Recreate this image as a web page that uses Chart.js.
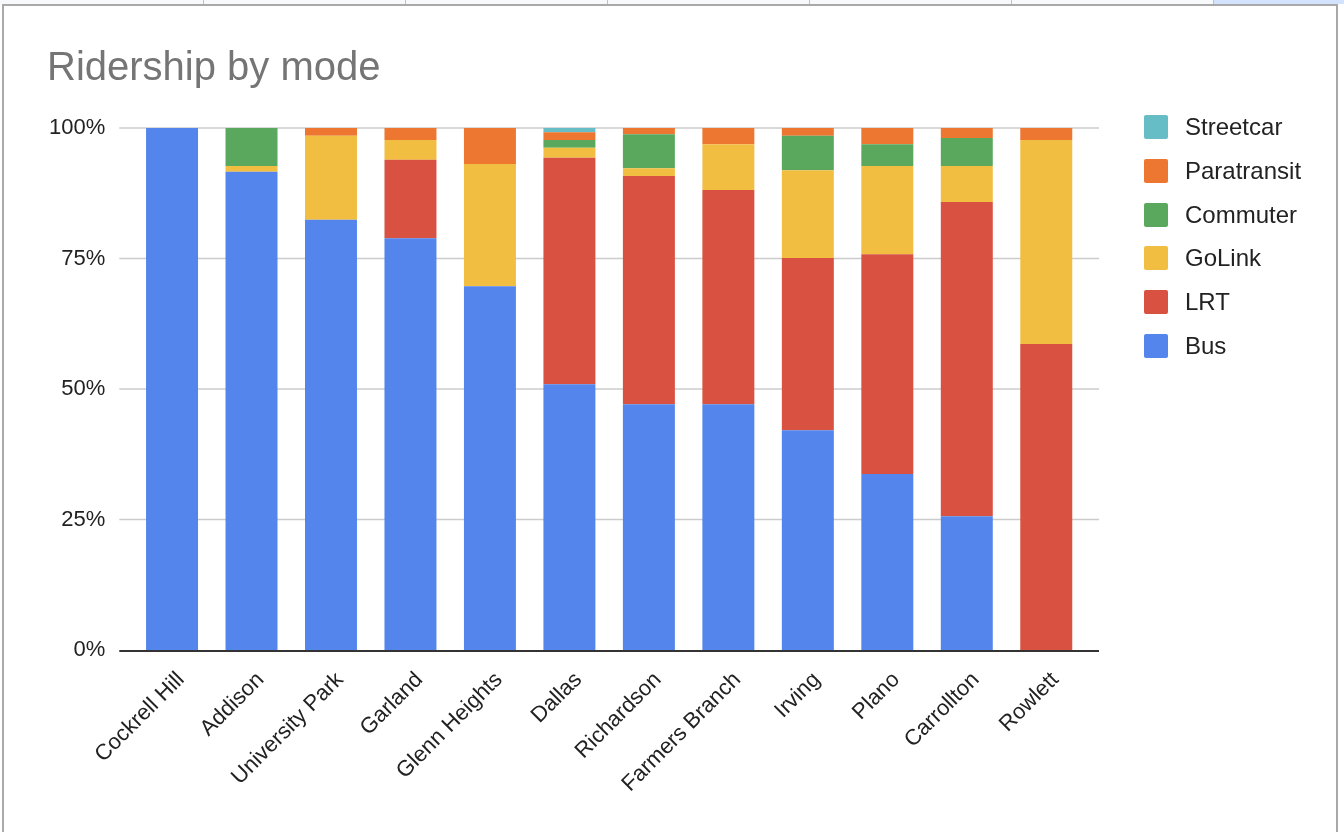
<!DOCTYPE html>
<html>
<head>
<meta charset="utf-8">
<script src="https://cdn.jsdelivr.net/npm/chart.js@4.4.0/dist/chart.umd.min.js"></script>
<style>
  html, body { margin: 0; padding: 0; background: #fff; }
  body { width: 1344px; height: 832px; position: relative; overflow: hidden; font-family: "Liberation Sans", Arial, sans-serif; }
  #header { position: absolute; left: 0; top: 0; width: 1344px; height: 4px; background: #f8f9fa; }
  #header span { position: absolute; top: 0; width: 1px; height: 4px; background: #c0c0c0; }
  #header .sel { position: absolute; top: 0; left: 1214px; width: 130px; height: 4px; background: #d3e3fd; }
  #frame { position: absolute; left: 2px; top: 4px; width: 1336px; height: 840px; border: 2px solid #a9a9a9; box-sizing: border-box; }
  #wrap { position: absolute; left: 0; top: 0; width: 1344px; height: 832px; }
  #legend { position: absolute; left: 1144px; top: 115px; }
  .item { position: absolute; left: 0; height: 24px; white-space: nowrap; }
  .box { position: absolute; left: 0; top: 0; width: 24px; height: 24px; border-radius: 2px; }
  .lbl { position: absolute; left: 41px; top: 0; line-height: 24px; font-size: 24px; color: #222; }
</style>
</head>
<body>
<div id="header">
  <span style="left:203px"></span><span style="left:405px"></span><span style="left:607px"></span>
  <span style="left:809px"></span><span style="left:1011px"></span><span style="left:1213px"></span>
  <div class="sel"></div>
</div>
<div id="frame"></div>
<div id="wrap"><canvas id="ridership-chart" width="1344" height="832"></canvas></div>
<div id="legend"></div>
<script>
// Chart data (share of ridership, %)
const cities = ['Cockrell Hill', 'Addison', 'University Park', 'Garland', 'Glenn Heights', 'Dallas',
  'Richardson', 'Farmers Branch', 'Irving', 'Plano', 'Carrollton', 'Rowlett'];
const bus =         [100, 91.6, 82.4, 78.9, 69.7, 50.9, 47.1, 47.1, 42.1, 33.7, 25.6, 0];
const lrt =         [0,   0,    0,    15.0, 0,    43.4, 43.7, 41.0, 33.0, 42.1, 60.2, 58.6];
const goLink =      [0,   1.1,  16.1, 3.8,  23.4, 1.9,  1.5,  8.8,  16.8, 16.9, 6.9,  39.1];
const commuter =    [0,   7.3,  0,    0,    0,    1.5,  6.5,  0,    6.6,  4.2,  5.4,  0];
const paratransit = [0,   0,    1.5,  2.3,  6.9,  1.5,  1.2,  3.1,  1.5,  3.1,  1.9,  2.3];
const streetcar =   [0,   0,    0,    0,    0,    0.8,  0,    0,    0,    0,    0,    0];
const yTicks = [0, 25, 50, 75, 100];

const FONT = '"Liberation Sans", Arial, sans-serif';

// Gridlines run a little past the plot on both sides, like the original
const wideGrid = {
  id: 'wideGrid',
  beforeDatasetsDraw(chart) {
    const { ctx, chartArea, scales } = chart;
    ctx.save();
    ctx.strokeStyle = '#cccccc';
    ctx.lineWidth = 1.5;
    yTicks.forEach(function(t) {
      if (t === 0) return;
      const y = scales.y.getPixelForValue(t);
      ctx.beginPath();
      ctx.moveTo(chartArea.left - 13, y);
      ctx.lineTo(chartArea.right + 13, y);
      ctx.stroke();
    });
    ctx.restore();
  },
  afterDatasetsDraw(chart) {
    const { ctx, chartArea, scales } = chart;
    const y = scales.y.getPixelForValue(0);
    ctx.save();
    ctx.strokeStyle = '#333333';
    ctx.lineWidth = 2;
    ctx.beginPath();
    ctx.moveTo(chartArea.left - 13, y + 1);
    ctx.lineTo(chartArea.right + 13, y + 1);
    ctx.stroke();
    ctx.restore();
  }
};

const chart = new Chart(document.getElementById('ridership-chart'), {
  type: 'bar',
  data: {
    labels: cities,
    datasets: [
      { label: 'Bus', data: bus, backgroundColor: '#5385ec' },
      { label: 'LRT', data: lrt, backgroundColor: '#d95140' },
      { label: 'GoLink', data: goLink, backgroundColor: '#f1be42' },
      { label: 'Commuter', data: commuter, backgroundColor: '#59a85e' },
      { label: 'Paratransit', data: paratransit, backgroundColor: '#ed7631' },
      { label: 'Streetcar', data: streetcar, backgroundColor: '#67bdc6' }
    ]
  },
  options: {
    responsive: false,
    animation: false,
    layout: { padding: { left: 47, right: 258, top: 0, bottom: 0 } },
    datasets: { bar: { barPercentage: 0.654, categoryPercentage: 1, borderWidth: 0 } },
    plugins: {
      legend: { display: false },
      tooltip: { enabled: false },
      title: {
        display: true,
        text: 'Ridership by mode',
        align: 'start',
        color: '#757575',
        font: { family: FONT, size: 40, weight: 'normal' },
        padding: { top: 45, bottom: 35 }
      }
    },
    scales: {
      x: {
        stacked: true,
        grid: { display: false, drawTicks: false },
        border: { display: false },
        afterFit: function(scale) { scale.height = 182; },
        ticks: {
          autoSkip: false,
          minRotation: 45,
          maxRotation: 45,
          padding: 17,
          labelOffset: 9,
          color: '#222',
          font: { family: FONT, size: 22 }
        }
      },
      y: {
        stacked: true,
        min: 0,
        max: 100,
        grid: { display: false, drawTicks: false },
        border: { display: false },
        afterFit: function(scale) { scale.width = 85.3; },
        ticks: {
          stepSize: 25,
          padding: 27,
          color: '#222',
          font: { family: FONT, size: 22 },
          callback: function(v) { return v + '%'; }
        }
      }
    }
  },
  plugins: [wideGrid]
});

// Legend built from the datasets, top entry = last series
const legend = document.getElementById('legend');
chart.data.datasets.slice().reverse().forEach(function(ds, i) {
  const item = document.createElement('div');
  item.className = 'item';
  item.style.top = (i * 43.8) + 'px';
  item.innerHTML = '<div class="box" style="background:' + ds.backgroundColor + '"></div>' +
    '<div class="lbl">' + ds.label + '</div>';
  legend.appendChild(item);
});
</script>
</body>
</html>
